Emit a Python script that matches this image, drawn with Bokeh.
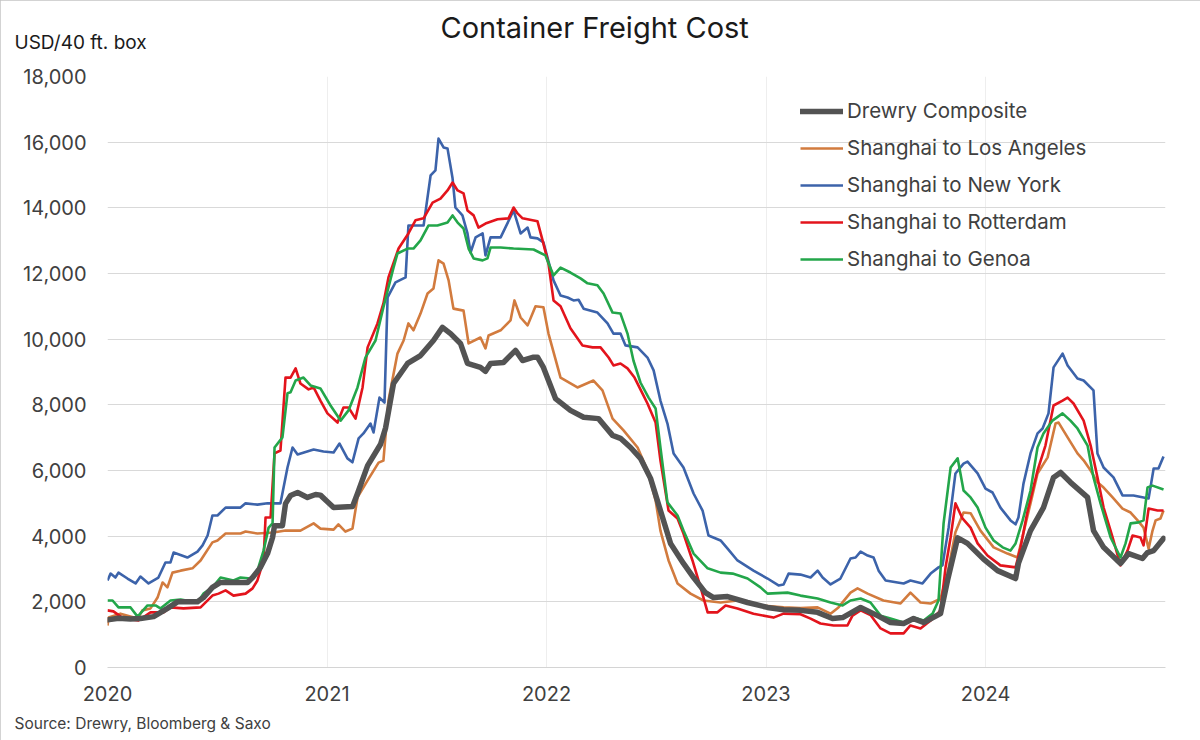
from bokeh.plotting import figure
from bokeh.models import (Range1d, FixedTicker, NumeralTickFormatter, Title,
                          Legend, LegendItem)
from bokeh.embed import file_html
from bokeh.resources import INLINE

# ---------------- data (decimal year, USD per 40 ft box) ----------------
comp_t = [2020.000, 2020.050, 2020.105, 2020.150, 2020.210, 2020.273, 2020.319, 2020.410, 2020.437,
          2020.478, 2020.515, 2020.638, 2020.661, 2020.697, 2020.729, 2020.752, 2020.761, 2020.797,
          2020.811, 2020.834, 2020.866, 2020.911, 2020.948, 2020.970, 2021.002, 2021.030, 2021.116,
          2021.139, 2021.185, 2021.244, 2021.267, 2021.303, 2021.367, 2021.426, 2021.485, 2021.526,
          2021.563, 2021.608, 2021.640, 2021.699, 2021.722, 2021.745, 2021.804, 2021.859, 2021.891,
          2021.941, 2021.959, 2021.986, 2022.041, 2022.109, 2022.169, 2022.237, 2022.301, 2022.337,
          2022.383, 2022.428, 2022.474, 2022.519, 2022.565, 2022.624, 2022.670, 2022.724, 2022.761,
          2022.825, 2022.916, 2023.007, 2023.080, 2023.157, 2023.235, 2023.303, 2023.349, 2023.431,
          2023.508, 2023.567, 2023.627, 2023.672, 2023.718, 2023.795, 2023.827, 2023.873, 2023.918,
          2023.991, 2024.055, 2024.137, 2024.150, 2024.205, 2024.264, 2024.310, 2024.342, 2024.387,
          2024.465, 2024.492, 2024.538, 2024.615, 2024.652, 2024.715, 2024.738, 2024.766, 2024.811]
comp_v = [1450, 1500, 1480, 1490, 1550, 1800, 2000, 2000, 2130,
          2440, 2590, 2590, 2740, 3050, 3470, 3960, 4320, 4320,
          4990, 5240, 5330, 5180, 5270, 5250, 5050, 4870, 4900,
          5300, 6150, 6800, 7300, 8650, 9260, 9500, 9960, 10360,
          10170, 9870, 9260, 9140, 9020, 9260, 9290, 9660, 9350,
          9450, 9450, 9140, 8190, 7830, 7620, 7580, 7070, 6980,
          6700, 6370, 5760, 4780, 3780, 3170, 2740, 2280, 2130,
          2160, 1980, 1830, 1760, 1740, 1680, 1490, 1520, 1830,
          1580, 1370, 1340, 1490, 1370, 1640, 2650, 3950, 3780,
          3300, 2950, 2710, 3170, 4170, 4870, 5790, 5940, 5640,
          5180, 4170, 3660, 3170, 3470, 3320, 3500, 3560, 3930]

la_t = [2020.000, 2020.005, 2020.059, 2020.137, 2020.159, 2020.196, 2020.228, 2020.251, 2020.273,
        2020.296, 2020.333, 2020.387, 2020.424, 2020.478, 2020.501, 2020.538, 2020.606, 2020.629,
        2020.683, 2020.756, 2020.811, 2020.879, 2020.939, 2020.970, 2021.030, 2021.052, 2021.084,
        2021.116, 2021.139, 2021.185, 2021.235, 2021.257, 2021.280, 2021.321, 2021.349, 2021.371,
        2021.394, 2021.426, 2021.458, 2021.485, 2021.508, 2021.531, 2021.554, 2021.576, 2021.622,
        2021.645, 2021.699, 2021.722, 2021.736, 2021.791, 2021.836, 2021.854, 2021.882, 2021.914,
        2021.950, 2021.986, 2022.009, 2022.064, 2022.141, 2022.214, 2022.255, 2022.301, 2022.351,
        2022.415, 2022.460, 2022.497, 2022.519, 2022.556, 2022.597, 2022.656, 2022.715, 2022.793,
        2022.870, 2022.975, 2023.080, 2023.157, 2023.235, 2023.294, 2023.330, 2023.385, 2023.417,
        2023.463, 2023.535, 2023.613, 2023.658, 2023.704, 2023.750, 2023.795, 2023.827, 2023.863,
        2023.900, 2023.932, 2023.977, 2024.037, 2024.100, 2024.146, 2024.205, 2024.237, 2024.283,
        2024.319, 2024.333, 2024.374, 2024.419, 2024.447, 2024.479, 2024.510, 2024.538, 2024.579,
        2024.624, 2024.661, 2024.693, 2024.720, 2024.743, 2024.761, 2024.775, 2024.797, 2024.811]
la_v = [1280, 1520, 1640, 1490, 1740, 1800, 2130, 2590, 2440,
        2890, 2950, 3020, 3260, 3810, 3870, 4080, 4080, 4140,
        4080, 4110, 4170, 4170, 4390, 4230, 4200, 4360, 4140,
        4230, 5180, 5700, 6240, 6300, 8130, 9560, 9960, 10480,
        10270, 10780, 11390, 11540, 12400, 12300, 11790, 10930, 10870,
        9870, 10050, 9720, 10110, 10270, 10570, 11180, 10660, 10420,
        11000, 10970, 10170, 8830, 8530, 8740, 8440, 7580, 7220,
        6700, 6000, 5090, 4170, 3260, 2560, 2250, 2040, 1980,
        2040, 1890, 1830, 1810, 1830, 1640, 1830, 2280, 2410,
        2250, 2040, 1950, 2280, 1980, 1950, 2100, 2860, 4120,
        4720, 4700, 4170, 3660, 3470, 3350, 5000, 5910, 6400,
        7430, 7460, 7010, 6520, 6310, 6000, 5640, 5480, 5180,
        4840, 4720, 4480, 4260, 3620, 4170, 4480, 4540, 4780]

ny_t = [2020.000, 2020.014, 2020.036, 2020.050, 2020.091, 2020.128, 2020.150, 2020.187, 2020.232,
        2020.264, 2020.287, 2020.301, 2020.364, 2020.410, 2020.433, 2020.456, 2020.478, 2020.501,
        2020.538, 2020.606, 2020.629, 2020.683, 2020.729, 2020.788, 2020.820, 2020.843, 2020.866,
        2020.939, 2020.984, 2021.030, 2021.057, 2021.093, 2021.116, 2021.144, 2021.166, 2021.198,
        2021.212, 2021.239, 2021.262, 2021.276, 2021.312, 2021.358, 2021.371, 2021.440, 2021.472,
        2021.494, 2021.508, 2021.531, 2021.549, 2021.572, 2021.585, 2021.617, 2021.640, 2021.654,
        2021.677, 2021.709, 2021.722, 2021.745, 2021.791, 2021.850, 2021.882, 2021.914, 2021.927,
        2021.959, 2021.986, 2022.032, 2022.064, 2022.096, 2022.123, 2022.146, 2022.169, 2022.232,
        2022.278, 2022.305, 2022.337, 2022.360, 2022.415, 2022.460, 2022.488, 2022.519, 2022.551,
        2022.579, 2022.624, 2022.670, 2022.711, 2022.738, 2022.793, 2022.825, 2022.870, 2022.943,
        2023.007, 2023.057, 2023.080, 2023.103, 2023.157, 2023.203, 2023.235, 2023.258, 2023.294,
        2023.339, 2023.385, 2023.408, 2023.431, 2023.463, 2023.490, 2023.513, 2023.545, 2023.599,
        2023.627, 2023.658, 2023.713, 2023.750, 2023.786, 2023.804, 2023.832, 2023.863, 2023.900,
        2023.918, 2023.964, 2024.000, 2024.032, 2024.068, 2024.114, 2024.137, 2024.150, 2024.173,
        2024.205, 2024.237, 2024.260, 2024.287, 2024.310, 2024.351, 2024.374, 2024.419, 2024.447,
        2024.492, 2024.510, 2024.538, 2024.583, 2024.624, 2024.674, 2024.720, 2024.743, 2024.766,
        2024.788, 2024.811]
ny_v = [2650, 2860, 2740, 2890, 2710, 2560, 2770, 2560, 2740,
        3200, 3200, 3500, 3350, 3530, 3720, 4020, 4630, 4630,
        4870, 4870, 5000, 4960, 5000, 5000, 6090, 6700, 6490,
        6640, 6580, 6550, 6820, 6370, 6250, 6980, 7130, 7430,
        7160, 8220, 8070, 11270, 11730, 11880, 13460, 13460, 14990,
        15140, 16110, 15840, 15810, 14900, 14010, 13770, 13220, 12640,
        13100, 13220, 12550, 13100, 13100, 13920, 13220, 13400, 13100,
        13070, 12950, 11790, 11330, 11270, 11180, 11200, 10930, 10810,
        10480, 10170, 10170, 9810, 9750, 9440, 9050, 8130, 7430,
        6520, 6090, 5300, 4780, 4020, 3870, 3620, 3260, 2950,
        2710, 2500, 2530, 2860, 2830, 2740, 2950, 2740, 2530,
        2710, 3320, 3350, 3530, 3410, 3350, 2950, 2650, 2590,
        2560, 2650, 2560, 2860, 3050, 3110, 4260, 5910, 6210,
        6270, 5910, 5450, 5330, 4870, 4480, 4360, 4570, 5600,
        6520, 7130, 7280, 7740, 9140, 9560, 9200, 8800, 8740,
        8440, 6520, 6090, 5790, 5240, 5240, 5180, 5150, 6060,
        6060, 6430]

rot_t = [2020.000, 2020.027, 2020.073, 2020.141, 2020.196, 2020.255, 2020.287, 2020.346, 2020.424,
         2020.478, 2020.506, 2020.538, 2020.574, 2020.629, 2020.661, 2020.683, 2020.711, 2020.720,
         2020.743, 2020.761, 2020.788, 2020.811, 2020.834, 2020.857, 2020.879, 2020.916, 2020.939,
         2020.970, 2021.002, 2021.048, 2021.075, 2021.098, 2021.130, 2021.162, 2021.185, 2021.230,
         2021.257, 2021.280, 2021.326, 2021.371, 2021.403, 2021.440, 2021.481, 2021.517, 2021.549,
         2021.572, 2021.595, 2021.622, 2021.640, 2021.668, 2021.690, 2021.722, 2021.777, 2021.827,
         2021.850, 2021.868, 2021.891, 2021.959, 2021.982, 2022.009, 2022.032, 2022.064, 2022.109,
         2022.164, 2022.210, 2022.246, 2022.283, 2022.305, 2022.337, 2022.369, 2022.401, 2022.437,
         2022.460, 2022.497, 2022.519, 2022.556, 2022.597, 2022.624, 2022.665, 2022.702, 2022.734,
         2022.779, 2022.816, 2022.870, 2022.943, 2023.034, 2023.080, 2023.157, 2023.203, 2023.248,
         2023.308, 2023.371, 2023.394, 2023.431, 2023.476, 2023.522, 2023.567, 2023.627, 2023.658,
         2023.704, 2023.750, 2023.795, 2023.818, 2023.841, 2023.863, 2023.895, 2023.932, 2023.964,
         2024.009, 2024.068, 2024.137, 2024.160, 2024.192, 2024.237, 2024.273, 2024.310, 2024.351,
         2024.374, 2024.401, 2024.447, 2024.479, 2024.510, 2024.538, 2024.579, 2024.615, 2024.647,
         2024.670, 2024.706, 2024.720, 2024.743, 2024.784, 2024.811]
rot_v = [1740, 1710, 1490, 1430, 1680, 1680, 1830, 1800, 1830,
         2190, 2250, 2350, 2190, 2250, 2410, 2650, 3260, 4570,
         4570, 6520, 6610, 8830, 8830, 9110, 8650, 8470, 8530,
         8130, 7740, 7460, 7920, 7920, 7580, 8530, 9750, 10480,
         11090, 11880, 12760, 13220, 13620, 13680, 14160, 14280, 14530,
         14770, 14530, 14440, 13920, 13770, 13400, 13520, 13650, 13680,
         14010, 13830, 13680, 13590, 13010, 12300, 11180, 11000, 10330,
         9810, 9750, 9750, 9440, 9200, 9260, 9110, 8830, 8350,
         8040, 7460, 6310, 4780, 4540, 4080, 3260, 2440, 1680,
         1680, 1890, 1800, 1640, 1520, 1640, 1620, 1490, 1340,
         1280, 1280, 1580, 1740, 1600, 1190, 1040, 1040, 1280,
         1190, 1430, 1740, 3050, 3960, 5000, 4540, 4260, 3780,
         3410, 3110, 3050, 3660, 4780, 6000, 6760, 7980, 8130,
         8220, 8040, 7520, 6760, 5790, 4870, 3960, 3110, 3560,
         4020, 3960, 3720, 4840, 4780, 4780]

gen_t = [2020.000, 2020.023, 2020.050, 2020.105, 2020.137, 2020.182, 2020.219, 2020.241, 2020.287,
         2020.333, 2020.410, 2020.437, 2020.478, 2020.515, 2020.574, 2020.606, 2020.651, 2020.683,
         2020.711, 2020.734, 2020.752, 2020.761, 2020.797, 2020.820, 2020.834, 2020.857, 2020.893,
         2020.925, 2020.970, 2021.016, 2021.062, 2021.098, 2021.139, 2021.175, 2021.221, 2021.257,
         2021.303, 2021.321, 2021.367, 2021.394, 2021.426, 2021.462, 2021.503, 2021.549, 2021.572,
         2021.595, 2021.622, 2021.645, 2021.668, 2021.709, 2021.731, 2021.745, 2021.791, 2021.850,
         2021.941, 2021.995, 2022.032, 2022.064, 2022.109, 2022.155, 2022.187, 2022.232, 2022.260,
         2022.301, 2022.337, 2022.369, 2022.396, 2022.428, 2022.465, 2022.497, 2022.519, 2022.551,
         2022.597, 2022.624, 2022.670, 2022.734, 2022.793, 2022.848, 2022.916, 2022.975, 2023.007,
         2023.098, 2023.157, 2023.235, 2023.294, 2023.349, 2023.385, 2023.431, 2023.476, 2023.522,
         2023.567, 2023.627, 2023.672, 2023.718, 2023.759, 2023.786, 2023.809, 2023.841, 2023.873,
         2023.900, 2023.932, 2023.964, 2024.000, 2024.037, 2024.078, 2024.114, 2024.137, 2024.169,
         2024.205, 2024.237, 2024.264, 2024.305, 2024.351, 2024.387, 2024.419, 2024.465, 2024.492,
         2024.524, 2024.570, 2024.615, 2024.638, 2024.661, 2024.697, 2024.720, 2024.738, 2024.761,
         2024.811]
gen_v = [2040, 2040, 1830, 1830, 1550, 1890, 1890, 1800, 2040,
         2070, 1980, 2250, 2440, 2740, 2650, 2740, 2710, 2950,
         3560, 4260, 4390, 6700, 7010, 8350, 8380, 8740, 8830,
         8590, 8500, 7980, 7520, 7830, 8530, 9440, 9960, 10970,
         12180, 12610, 12760, 12760, 13010, 13460, 13460, 13550, 13770,
         13550, 13370, 12760, 12460, 12400, 12460, 12790, 12790, 12760,
         12730, 12550, 11940, 12180, 12030, 11850, 11700, 11640, 11390,
         10810, 10780, 10170, 9350, 8680, 8220, 7890, 6700, 5030,
         4630, 4170, 3470, 3020, 2890, 2860, 2710, 2440, 2250,
         2280, 2190, 2100, 1980, 1890, 2040, 2100, 1980, 1580,
         1490, 1370, 1520, 1430, 1640, 2040, 4390, 6090, 6370,
         5390, 5180, 4870, 4260, 3870, 3660, 3560, 3780, 4480,
         5390, 6700, 7130, 7520, 7740, 7520, 7280, 6760, 5790,
         5000, 3960, 3350, 3780, 4390, 4420, 4480, 5480, 5540,
         5420]

series_names = ["Drewry Composite", "Shanghai to Los Angeles", "Shanghai to New York",
                "Shanghai to Rotterdam", "Shanghai to Genoa"]
year_ticks = [2020, 2021, 2022, 2023, 2024]
year_labels = ["2020", "2021", "2022", "2023", "2024"]
value_ticks = [0, 2000, 4000, 6000, 8000, 10000, 12000, 14000, 16000, 18000]

# ---------------- styles ----------------
FONT = "Inter"
C_COMP = "#535353"
C_LA = "#D27B3E"
C_NY = "#3C63AA"
C_ROT = "#E3141C"
C_GEN = "#23A64A"
TXT = "#404040"

p = figure(width=1200, height=740, output_backend="svg", toolbar_location=None,
           x_range=Range1d(2020.0, 2024.82), y_range=Range1d(0, 18000),
           min_border_left=107, min_border_right=35, min_border_top=76, min_border_bottom=73)
p.outline_line_color = None
p.background_fill_color = "white"
p.border_fill_color = "white"
p.styles = {"outline": "1px solid #C4C4C4", "outline-offset": "-1px"}

# axes
p.xaxis.ticker = FixedTicker(ticks=year_ticks)
p.xaxis.major_label_overrides = {t: s for t, s in zip(year_ticks, year_labels)}
p.yaxis.ticker = FixedTicker(ticks=value_ticks)
p.yaxis.formatter = NumeralTickFormatter(format="0,0")
for ax in (p.xaxis[0], p.yaxis[0]):
    ax.major_tick_line_color = None
    ax.minor_tick_line_color = None
    ax.major_label_text_font = FONT
    ax.major_label_text_font_size = "20px"
    ax.major_label_text_color = TXT
p.xaxis.axis_line_color = "#D4D4D4"
p.xaxis.major_label_standoff = 12
p.yaxis.axis_line_color = None
p.yaxis.major_label_standoff = 15

p.xgrid.ticker = FixedTicker(ticks=year_ticks)
p.xgrid.grid_line_color = "#EEEEEE"
p.xgrid.grid_line_width = 1
p.ygrid.ticker = FixedTicker(ticks=value_ticks)
p.ygrid.grid_line_color = "#D9D9D9"
p.ygrid.grid_line_width = 1

# lines
r_la = p.line(la_t, la_v, line_color=C_LA, line_width=2.6, line_join="round")
r_ny = p.line(ny_t, ny_v, line_color=C_NY, line_width=2.6, line_join="round")
r_rot = p.line(rot_t, rot_v, line_color=C_ROT, line_width=2.6, line_join="round")
r_gen = p.line(gen_t, gen_v, line_color=C_GEN, line_width=2.6, line_join="round")
r_comp = p.line(comp_t, comp_v, line_color=C_COMP, line_width=5.5, line_join="round", line_cap="round")

legend = Legend(items=[LegendItem(label=n, renderers=[r]) for n, r in
                       zip(series_names, [r_comp, r_la, r_ny, r_rot, r_gen])],
                location=(693, 396), orientation="vertical",
                label_text_font=FONT, label_text_font_size="20.5px", label_text_color=TXT,
                glyph_width=43, glyph_height=24, label_height=24, label_standoff=4,
                spacing=12, padding=0, margin=0,
                background_fill_alpha=0, border_line_color=None)
p.add_layout(legend, "center")

# texts (titles live outside the frame)
p.title.text = ""
t_usd = Title(text="USD/40 ft. box", align="left", offset=-93, standoff=45,
              text_font=FONT, text_font_size="19px", text_font_style="normal",
              text_color="#1A1A1A")
t_main = Title(text="Container Freight Cost", align="left", offset=333, standoff=-77,
               text_font=FONT, text_font_size="29px", text_font_style="normal",
               text_color="#1A1A1A")
t_src = Title(text="Source: Drewry, Bloomberg & Saxo", align="left", offset=-93, standoff=16,
              text_font=FONT, text_font_size="15.5px", text_font_style="normal",
              text_color=TXT)
p.add_layout(t_usd, "above")
p.add_layout(t_main, "above")
p.add_layout(t_src, "below")

open("out.html", "w").write(file_html(p, INLINE))
